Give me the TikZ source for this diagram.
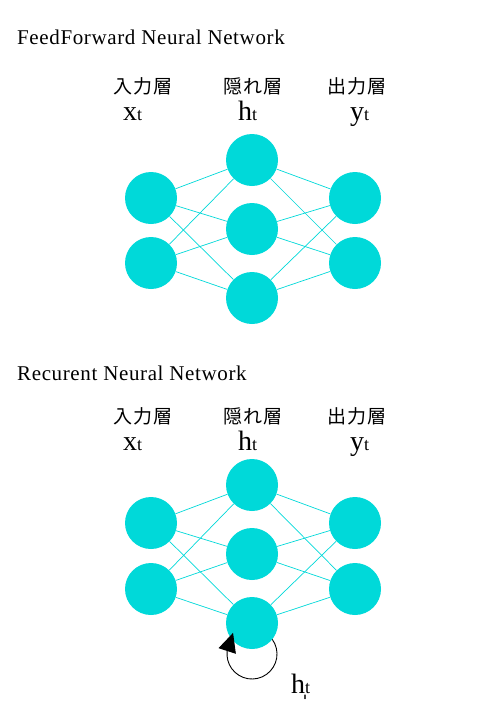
\documentclass[tikz,border=0pt]{standalone}
\usepackage{fontspec}
\setmainfont{Liberation Serif}
\newfontfamily\jpfont[LetterSpace=4]{Noto Sans CJK JP}
\newfontfamily\titlefont[LetterSpace=3]{Liberation Serif}
\usetikzlibrary{arrows.meta,calc}
\definecolor{nncyan}{RGB}{0,217,217}
\newcommand\varlab[1]{{\fontsize{28}{28}\selectfont #1}{\fontsize{18}{18}\selectfont t}}
\tikzset{
  neuron/.style={circle,fill=nncyan,draw=none,minimum size=52pt,inner sep=0pt},
  syn/.style={draw=nncyan,line width=0.7pt},
  jplab/.style={font=\jpfont\fontsize{19}{19}\selectfont,inner sep=0pt},
  varlabel/.style={anchor=base west,inner sep=0pt},
  ttl/.style={anchor=base west,inner sep=0pt,font=\titlefont\fontsize{21}{21}\selectfont},
  loopline/.style={draw=black,line width=0.9pt,-{Triangle[length=19pt,width=18pt]}}
}
\begin{document}
\begin{tikzpicture}[x=1pt,y=1pt]
\path[use as bounding box,fill=white] (0,0) rectangle (500,-720);

% ---------- FeedForward ----------
\node[ttl] (t1) at (17,-44.5) {FeedForward Neural Network};
\node[jplab] (j1) at (143,-86) {入力層};
\node[jplab] (j2) at (253,-86) {隠れ層};
\node[jplab] (j3) at (357,-86) {出力層};
\node[varlabel] (v1) at (123,-120) {\varlab{x}};
\node[varlabel] (v2) at (238,-120) {\varlab{h}};
\node[varlabel] (v3) at (350,-120) {\varlab{y}};

\node[neuron] (i1) at (151,-198) {};
\node[neuron] (i2) at (151,-263) {};
\node[neuron] (h1) at (252,-160) {};
\node[neuron] (h2) at (252,-229) {};
\node[neuron] (h3) at (252,-298) {};
\node[neuron] (o1) at (355,-198) {};
\node[neuron] (o2) at (355,-263) {};
\foreach \a in {i1,i2}{\foreach \b in {h1,h2,h3}{\draw[syn] (\a) -- (\b);}}
\foreach \a in {h1,h2,h3}{\foreach \b in {o1,o2}{\draw[syn] (\a) -- (\b);}}

% ---------- Recurrent ----------
\node[ttl] (t2) at (17,-380) {Recurent Neural Network};
\node[jplab] (k1) at (143,-416) {入力層};
\node[jplab] (k2) at (253,-416) {隠れ層};
\node[jplab] (k3) at (357,-416) {出力層};
\node[varlabel] (w1) at (123,-450) {\varlab{x}};
\node[varlabel] (w2) at (238,-450) {\varlab{h}};
\node[varlabel] (w3) at (350,-450) {\varlab{y}};

\node[neuron] (bi1) at (151,-523) {};
\node[neuron] (bi2) at (151,-589) {};
\node[neuron] (bh1) at (252,-485) {};
\node[neuron] (bh2) at (252,-554) {};
\node[neuron] (bh3) at (252,-623) {};
\node[neuron] (bo1) at (355,-523) {};
\node[neuron] (bo2) at (355,-589) {};
\foreach \a in {bi1,bi2}{\foreach \b in {bh1,bh2,bh3}{\draw[syn] (\a) -- (\b);}}
\foreach \a in {bh1,bh2,bh3}{\foreach \b in {bo1,bo2}{\draw[syn] (\a) -- (\b);}}

% recurrent loop
\draw[loopline] ($(bh3.center)+(0,-31)$) ++(36:25pt) arc[start angle=36,end angle=-187,radius=25pt] -- ++(72:19pt);
\node[varlabel] (lh) at (291,-693) {{\fontsize{28}{28}\selectfont h̩}{\fontsize{18}{18}\selectfont t}};
\end{tikzpicture}
\end{document}
